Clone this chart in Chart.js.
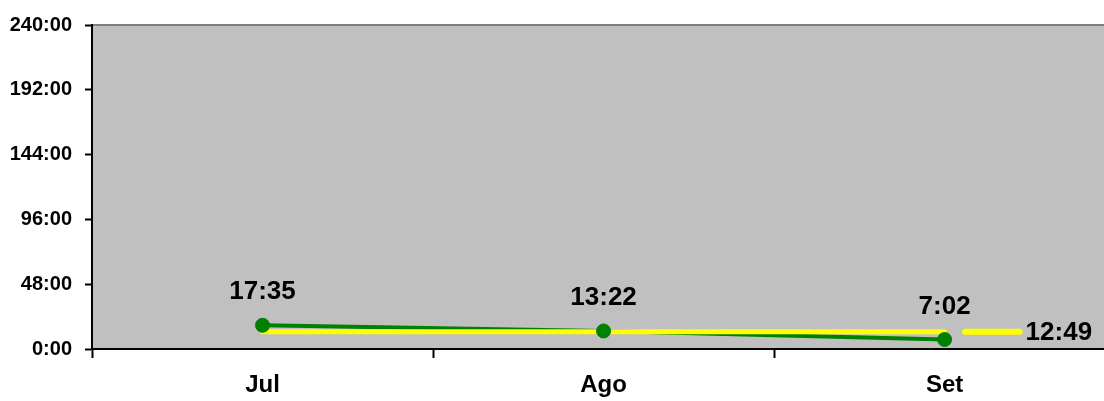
<!DOCTYPE html>
<html><head><meta charset="utf-8">
<script src="https://cdn.jsdelivr.net/npm/chart.js@4/dist/chart.umd.min.js"></script>
<style>html,body{margin:0;padding:0;background:#fff;overflow:hidden}#wrap{width:1104px;height:401px}</style>
</head><body><div id="wrap"><canvas id="c"></canvas></div>
<script>
const categories = ['Jul', 'Ago', 'Set'];
const durations = ['17:35', '13:22', '7:02'];
const averageLabel = '12:49';
const averageKeyX = [2.06, 2.22];
const yTicks = [0, 48, 96, 144, 192, 240];

function toHours(s){const p=s.split(':');return +p[0]+(+p[1])/60;}
const greenPts = durations.map((d,i)=>({x:i,y:toHours(d)}));
const avg = toHours(averageLabel);
const yellowPts = categories.map((c,i)=>({x:i,y:avg}));
const keyPts = averageKeyX.map(x=>({x:x,y:avg}));
const FONT = '"Liberation Sans", Arial, sans-serif';

const bgPlugin = {
  id:'bg',
  beforeDraw(chart){
    const a=chart.chartArea, ctx=chart.ctx;
    ctx.save();
    ctx.fillStyle='#C0C0C0';
    ctx.fillRect(a.left,a.top,chart.width-a.left,a.bottom-a.top);
    ctx.strokeStyle='#808080';ctx.lineWidth=2;
    ctx.beginPath();ctx.moveTo(a.left,a.top);ctx.lineTo(chart.width,a.top);ctx.stroke();
    ctx.restore();
  },
  afterDraw(chart){
    const a=chart.chartArea, ctx=chart.ctx;
    ctx.save();
    ctx.strokeStyle='#000';ctx.lineWidth=2;
    ctx.beginPath();ctx.moveTo(a.right-1,a.bottom);ctx.lineTo(chart.width,a.bottom);ctx.stroke();
    ctx.restore();
  }
};
const labelPlugin = {
  id:'lbl',
  afterDatasetsDraw(chart){
    const ctx=chart.ctx;
    ctx.save();
    ctx.font='bold 26px '+FONT;
    ctx.fillStyle='#000';
    ctx.textAlign='center';ctx.textBaseline='middle';
    chart.getDatasetMeta(2).data.forEach((pt,i)=>{
      ctx.fillText(durations[i], pt.x, pt.y-33);
    });
    const km=chart.getDatasetMeta(3).data;
    const last=km[km.length-1];
    ctx.textAlign='left';
    ctx.fillText(averageLabel, last.x+6, last.y+1);
    ctx.restore();
  }
};

new Chart(document.getElementById('c'),{
  type:'line',
  data:{datasets:[
    {data:greenPts,borderColor:'#008000',borderWidth:4,pointRadius:0,order:3,showLine:true},
    {data:yellowPts,borderColor:'#FFFF00',borderWidth:5,pointRadius:0,order:2,borderCapStyle:'round'},
    {data:greenPts,showLine:false,pointRadius:7,pointBackgroundColor:'#008000',pointBorderColor:'#008000',order:1},
    {data:keyPts,borderColor:'#FFFF00',borderWidth:6,pointRadius:0,order:2,borderCapStyle:'round'}
  ]},
  options:{
    responsive:true,maintainAspectRatio:false,animation:false,
    layout:{padding:{top:22,right:0,left:0,bottom:0}},
    plugins:{legend:{display:false},tooltip:{enabled:false}},
    scales:{
      x:{type:'linear',min:-0.5,max:2.444,
        afterBuildTicks(ax){ax.ticks=[-0.5,0,0.5,1,1.5,2].map(v=>({value:v}));},
        afterFit(ax){ax.height=52;},
        ticks:{autoSkip:false,maxRotation:0,padding:13,color:'#000',font:{family:FONT,size:24,weight:'bold'},
          callback:(v)=>Number.isInteger(v)?categories[v]:''},
        grid:{drawOnChartArea:false,tickLength:9,tickWidth:2,
          tickColor:(c)=>(c.tick && !Number.isInteger(c.tick.value))?'#000':'rgba(0,0,0,0)'},
        border:{color:'#000',width:2}
      },
      y:{min:0,max:240,
        afterBuildTicks(ax){ax.ticks=yTicks.map(v=>({value:v}));},
        afterFit(ax){ax.width=92;},
        ticks:{padding:13,color:'#000',font:{family:FONT,size:20,weight:'bold'},
          callback:(v)=>v+':00'},
        grid:{drawOnChartArea:false,tickLength:7,tickWidth:2,tickColor:'#000'},
        border:{color:'#000',width:2}
      }
    }
  },
  plugins:[bgPlugin,labelPlugin]
});
</script></body></html>
